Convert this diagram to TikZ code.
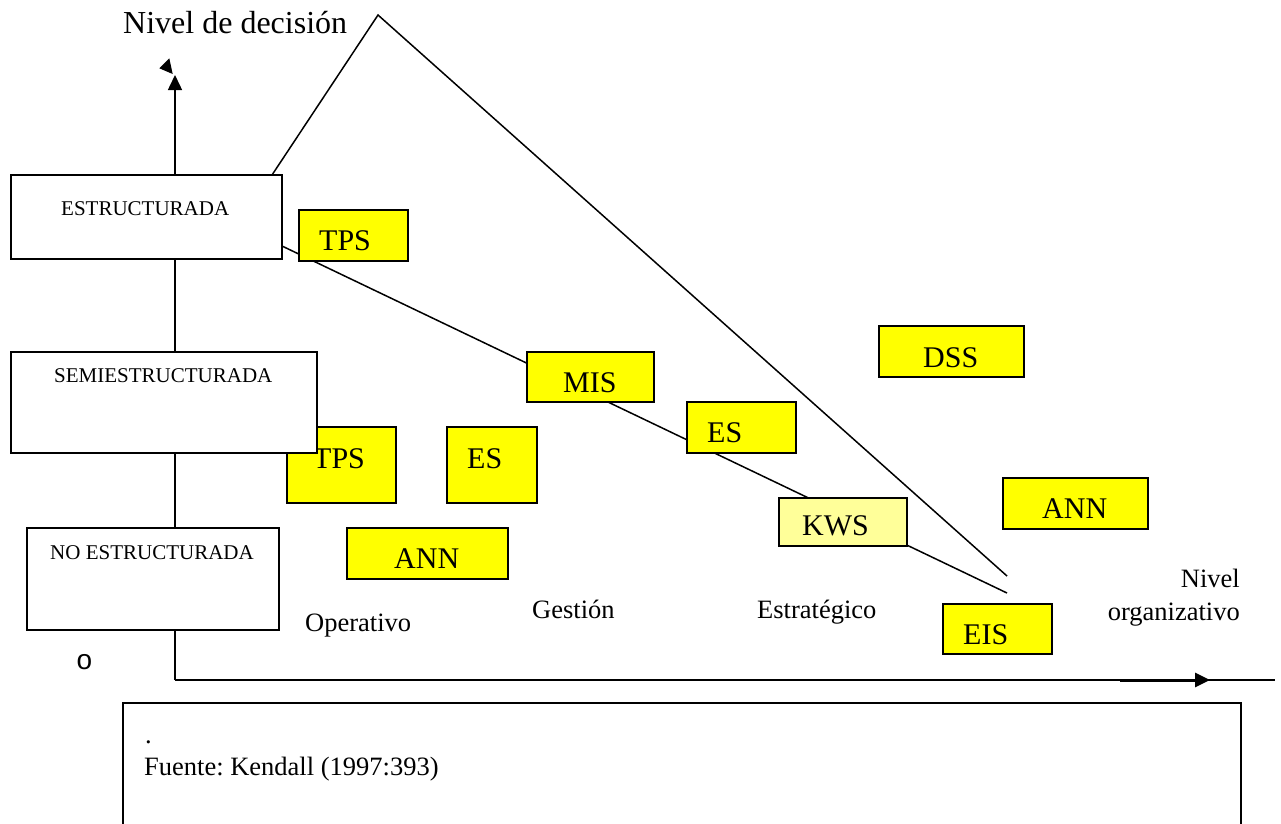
\documentclass[tikz,border=0pt]{standalone}
\usepackage{fontspec}
\setmainfont{Liberation Serif}
\newfontfamily\markfont{Liberation Sans}
\usetikzlibrary{arrows.meta,fit}
\definecolor{boxyellow}{HTML}{FFFF00}
\definecolor{paleyellow}{HTML}{FFFF99}
\pgfdeclarelayer{background}
\pgfsetlayers{background,main}
\newcommand{\fsz}[1]{\fontsize{#1}{#1}\selectfont}
\frenchspacing
\begin{document}
\begin{tikzpicture}[x=1pt,y=-1pt,
  levelbox/.style={draw, fill=white, line width=1.8pt, inner sep=0pt},
  sysbox/.style={draw, fill=boxyellow, line width=1.8pt, inner sep=0pt},
  kwsbox/.style={draw, fill=paleyellow, line width=1.8pt, inner sep=0pt},
  lbl/.style={inner sep=0pt, anchor=base west},
  syslbl/.style={lbl, font=\fsz{30}},
  levellbl/.style={lbl, font=\fsz{21}},
  axislbl/.style={lbl, font=\fsz{26.5}},
  conn/.style={line width=1.5pt},
]
\useasboundingbox (0,0) rectangle (1281,823);

% system boxes (yellow)
\node[sysbox, fit={(299,210) (408,261)}] (tps1) {};
\node[syslbl] (tps1t) at (319,250) {TPS};
\node[sysbox, fit={(527,352) (654,402)}] (mis) {};
\node[syslbl] (mist) at (563,392) {MIS};
\node[sysbox, fit={(687,402) (796,453)}] (esr) {};
\node[syslbl] (esrt) at (707,442) {ES};
\node[kwsbox, fit={(779,498) (907,546)}] (kws) {};
\node[syslbl] (kwst) at (802,535) {KWS};
\node[sysbox, fit={(879,326) (1024,377)}] (dss) {};
\node[syslbl] (dsst) at (923,367) {DSS};
\node[sysbox, fit={(1003,478) (1148,529)}] (annr) {};
\node[syslbl] (annrt) at (1042,518) {ANN};
\node[sysbox, fit={(943,604) (1052,654)}] (eis) {};
\node[syslbl] (eist) at (963,644) {EIS};
\node[sysbox, fit={(287,427) (396,503)}] (tps2) {};
\node[syslbl] (tps2t) at (313,468) {TPS};
\node[sysbox, fit={(447,427) (537,503)}] (esl) {};
\node[syslbl] (eslt) at (467,468) {ES};
\node[sysbox, fit={(347,528) (508,579)}] (annl) {};
\node[syslbl] (annlt) at (394,568) {ANN};

% decision-level boxes (white, on top)
\node[levelbox, fit={(11,175) (282,259)}] (estr) {};
\node[levellbl] (estrt) at (61,215) {ESTRUCTURADA};
\node[levelbox, fit={(11,352) (317,453)}] (semi) {};
\node[levellbl] (semit) at (54,382) {SEMIESTRUCTURADA};
\node[levelbox, fit={(27,528) (279,630)}] (noes) {};
\node[levellbl] (noest) at (50,559) {NO ESTRUCTURADA};

% axis and guide coordinates
\coordinate (ytop) at (175,75);
\coordinate (origin) at (175,680);
\coordinate (xend) at (1275,680);
\coordinate (xarrA) at (1120,680);
\coordinate (xarrB) at (1210,680);
\coordinate (triStart) at (272,175);
\coordinate (apex) at (378,15);
\coordinate (triEnd) at (1007,576);
\coordinate (diagStart) at (282,246);
\coordinate (diagEnd) at (1007,593);

\begin{pgfonlayer}{background}
  \draw[conn, -{Triangle[length=15pt,width=14pt]}] (origin) -- (ytop);
  \draw[conn] (origin) -- (xend);
  \draw[line width=3pt, -{Triangle[length=15pt,width=14pt]}] (xarrA) -- (xarrB);
  \draw[conn] (triStart) -- (apex) -- (triEnd);
  \draw[conn] (diagStart) -- (diagEnd);
\end{pgfonlayer}

% small tilted arrowhead beside the vertical axis tip
\fill (159.3,68.3) -- (169.3,58.3) -- (172.7,74) -- cycle;

% axis titles
\node[lbl, font=\fsz{32}] (ytitle) at (123,33) {Nivel de decisión};
\node[inner sep=0pt, anchor=base east, font=\fsz{26.5}] (xtitleA) at (1240,587) {Nivel};
\node[inner sep=0pt, anchor=base east, font=\fsz{26.5}] (xtitleB) at (1240,620) {organizativo};
\node[axislbl] (oper) at (305,631) {Operativo};
\node[axislbl] (gest) at (532,618) {Gestión};
\node[axislbl] (estrat) at (757,618) {Estratégico};

% bullet mark
\node[inner sep=0pt, anchor=base, font=\markfont\fsz{28}] (bullet) at (84.5,669) {o};

% source box
\node[draw, line width=1.8pt, inner sep=0pt, fit={(123,703) (1241,860)}] (srcbox) {};
\node[lbl, font=\fsz{26.5}] (srcdot) at (145,743) {.};
\node[lbl, font=\fsz{26.5}] (srctext) at (144,775) {Fuente: Kendall (1997:393)};
\end{tikzpicture}
\end{document}
